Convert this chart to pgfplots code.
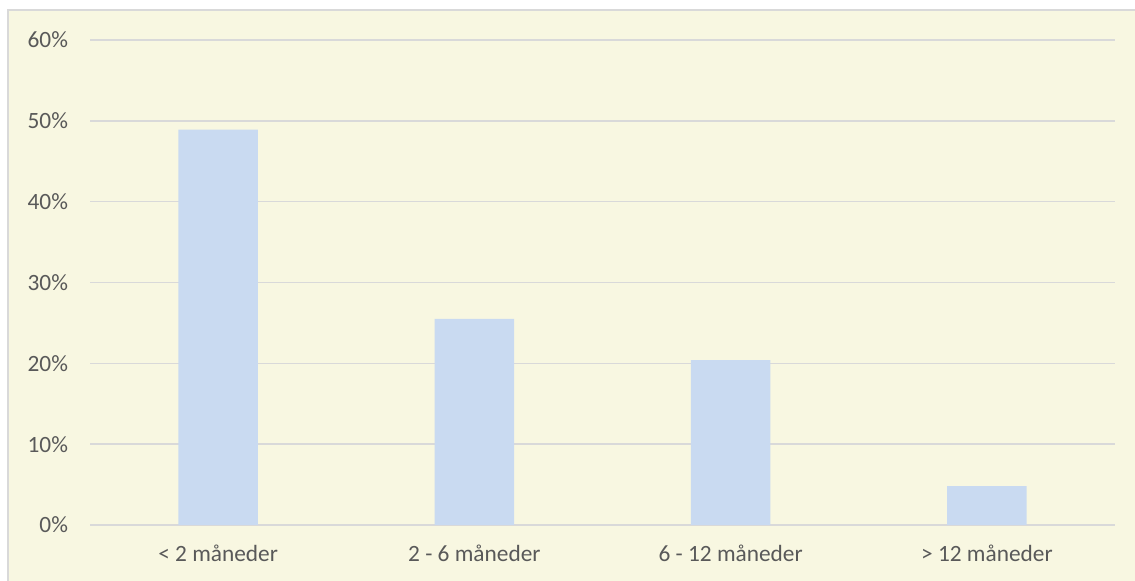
\documentclass[border=0pt]{standalone}
\usepackage{pgfplots}
\pgfplotsset{compat=1.18}
\usepackage{fontspec}
\setmainfont{Carlito}
\definecolor{bgc}{HTML}{F8F7E1}
\definecolor{barc}{HTML}{C9DAF1}
\definecolor{gridc}{HTML}{D9D9D9}
\definecolor{txtc}{HTML}{595959}
\begin{document}
\begin{tikzpicture}
\useasboundingbox (0pt,0pt) rectangle (851.25pt,435.75pt);
\fill[white] (0pt,0pt) rectangle (851.25pt,435.75pt);
\fill[bgc] (6pt,0pt) rectangle (851.25pt,428.25pt);
\draw[gridc,line width=1.5pt] (6pt,0pt) -- (6pt,428.25pt) -- (851.25pt,428.25pt);
\begin{axis}[
  at={(67.5pt,42pt)}, anchor=south west,
  scale only axis, width=768.75pt, height=363.75pt,
  xmin=-0.5, xmax=3.5, ymin=0, ymax=60,
  axis line style={draw=none},
  ybar, bar width=0.31,
  xtick={0,1,2,3},
  xticklabels={< 2 måneder, 2 - 6 måneder, 6 - 12 måneder, > 12 måneder},
  ytick={0,10,20,30,40,50,60},
  yticklabel={\pgfmathprintnumber{\tick}\%},
  ymajorgrids, grid style={gridc, line width=1.1pt},
  tick style={draw=none},
  ticklabel style={font=\fontsize{17.5}{20}\selectfont, text=txtc},
  yticklabel style={xshift=-13pt},
  xticklabel style={yshift=-7.5pt},
  /pgf/number format/assume math mode=true,
  clip=false,
]
\addplot[fill=barc, draw=none, bar shift=0pt] coordinates {(0,48.9) (1,25.5) (2,20.4) (3,4.8)};
\end{axis}
\end{tikzpicture}
\end{document}
